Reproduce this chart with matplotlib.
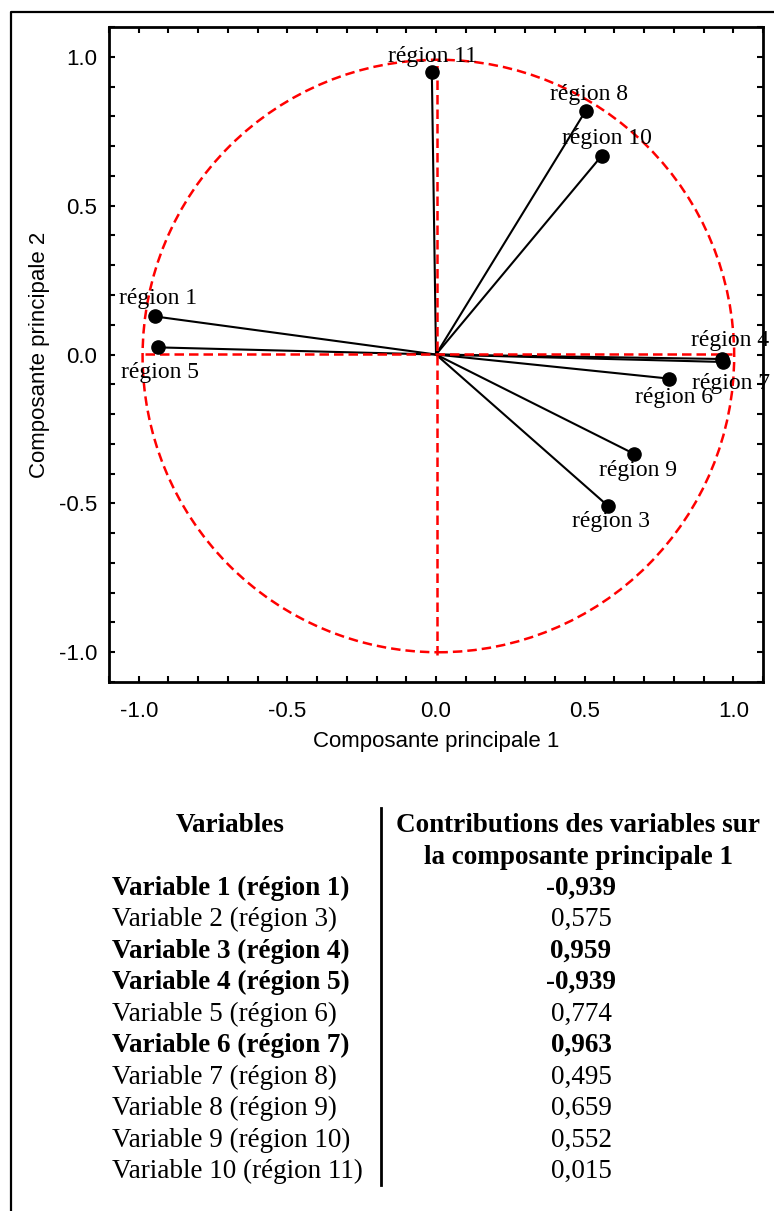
import numpy as np
import matplotlib
matplotlib.use("Agg")
import matplotlib.pyplot as plt
from matplotlib.patches import Circle
from matplotlib.lines import Line2D
from matplotlib.ticker import MultipleLocator

plt.rcParams['axes.unicode_minus'] = False

# coordinates of the variables on the correlation circle
regions = ['région 1', 'région 3', 'région 4', 'région 5', 'région 6',
           'région 7', 'région 8', 'région 9', 'région 10', 'région 11']
pc1 = [-0.946, 0.578, 0.962, -0.936, 0.785, 0.965, 0.503, 0.665, 0.557, -0.014]
pc2 = [0.128, -0.508, -0.015, 0.024, -0.081, -0.025, 0.818, -0.333, 0.667, 0.950]

# table below the plot
variables = ['Variable 1 (région 1)', 'Variable 2 (région 3)', 'Variable 3 (région 4)',
             'Variable 4 (région 5)', 'Variable 5 (région 6)', 'Variable 6 (région 7)',
             'Variable 7 (région 8)', 'Variable 8 (région 9)', 'Variable 9 (région 10)',
             'Variable 10 (région 11)']
contrib = ['-0,939', '0,575', '0,959', '-0,939', '0,774', '0,963',
           '0,495', '0,659', '0,552', '0,015']
bold_rows = [0, 2, 3, 5]

# label offsets (dx, dy) from each point, layout only
label_off = {
    'région 1': (0.010, 0.060), 'région 3': (0.010, -0.053),
    'région 4': (0.028, 0.062), 'région 5': (0.006, -0.085),
    'région 6': (0.015, -0.062), 'région 7': (0.028, -0.073),
    'région 8': (0.012, 0.055), 'région 9': (0.016, -0.056),
    'région 10': (0.017, 0.060), 'région 11': (0.002, 0.050),
}

SANS = 'Liberation Sans'
SERIF = 'Liberation Serif'

fig = plt.figure(figsize=(7.74, 12.11), dpi=100)

ax = fig.add_axes([0.1408, 0.4368, 0.845, 0.5409])
ax.set_xlim(-1.1, 1.1)
ax.set_ylim(-1.1, 1.1)

red = '#ff0000'
# correlation circle and axes cross
circ = Circle((0.008, -0.005), 0.995, fill=False, edgecolor=red, lw=1.8,
              linestyle=(0, (3.8, 2.0)), zorder=3)
ax.add_patch(circ)
ax.plot([-0.98, 0.995], [0.003, 0.003], color=red, lw=1.8,
        linestyle=(0, (3.8, 2.0)), zorder=3)
ax.plot([0.003, 0.003], [-1.01, 0.99], color=red, lw=1.8,
        linestyle=(0, (3.8, 2.0)), zorder=3)

for name, x, y in zip(regions, pc1, pc2):
    ax.plot([0, x], [0, y], color='black', lw=1.5, zorder=2)
    ax.plot(x, y, 'o', color='black', markersize=9.5, zorder=4)
    dx, dy = label_off[name]
    ax.text(x + dx, y + dy, name, ha='center', va='center', fontsize=17,
            family=SERIF, clip_on=False, zorder=5)

ax.xaxis.set_major_locator(MultipleLocator(0.5))
ax.yaxis.set_major_locator(MultipleLocator(0.5))
ax.xaxis.set_minor_locator(MultipleLocator(0.1))
ax.yaxis.set_minor_locator(MultipleLocator(0.1))
ax.tick_params(which='both', direction='in', top=True, right=True,
               width=1.5, length=4)
ax.tick_params(axis='x', which='major', pad=14)
ax.tick_params(axis='y', which='major', pad=8.5)
for lab in ax.get_xticklabels() + ax.get_yticklabels():
    lab.set_fontsize(16)
    lab.set_family(SANS)
for s in ax.spines.values():
    s.set_linewidth(2)

ax.set_xlabel('Composante principale 1', fontsize=16, family=SANS)
ax.set_ylabel('Composante principale 2', fontsize=16, family=SANS)
ax.xaxis.set_label_coords(0.5, -0.074)
ax.yaxis.set_label_coords(-0.090, 0.5)

# overlay in pixel units for the frame and the table
ov = fig.add_axes([0, 0, 1, 1], zorder=-1)
ov.set_xlim(0, 774)
ov.set_ylim(1211, 0)
ov.axis('off')
ov.add_line(Line2D([11, 11, 774], [1211, 12, 12], color='black', lw=1.6))

ov.plot([381, 381], [808, 1185], color='black', lw=2)
ov.text(230, 826, 'Variables', ha='center', va='center', fontsize=19.5,
        family=SERIF, weight='bold')
ov.text(578, 826, 'Contributions des variables sur', ha='center', va='center',
        fontsize=19.5, family=SERIF, weight='bold')
ov.text(578, 857, 'la composante principale 1', ha='center', va='center',
        fontsize=19.5, family=SERIF, weight='bold')

y0, step = 888, 31.5
for i, (v, c) in enumerate(zip(variables, contrib)):
    w = 'bold' if i in bold_rows else 'normal'
    y = y0 + i * step
    ov.text(112, y, v, ha='left', va='center', fontsize=19.5, family=SERIF, weight=w)
    ov.text(581, y, c, ha='center', va='center', fontsize=19.5, family=SERIF, weight=w)

fig.savefig('out.png', dpi=100)
